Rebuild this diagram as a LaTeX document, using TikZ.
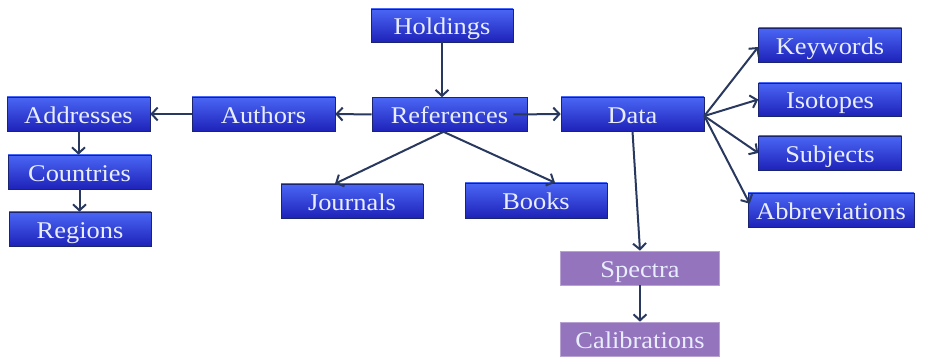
\documentclass[tikz,border=0pt]{standalone}
\usepackage{fontspec}
\setmainfont[FakeStretch=1.1]{Liberation Serif}
\usetikzlibrary{arrows.meta}
\definecolor{bluetop}{HTML}{4A66F5}
\definecolor{bluebot}{HTML}{1E22B8}
\definecolor{blueedge}{HTML}{1A2470}
\definecolor{purp}{HTML}{9474BC}
\definecolor{purpedge}{HTML}{B7A2D2}
\definecolor{txt}{HTML}{E8EEFF}
\definecolor{linec}{HTML}{28385E}
\tikzset{
  bbox/.style={draw=blueedge, line width=0.6pt, top color=bluetop, bottom color=bluebot,
    text=txt, minimum height=34pt, inner sep=0pt, text height=19pt, text depth=0pt,
    font=\fontsize{24}{24}\selectfont},
  pbox/.style={draw=purpedge, line width=0.6pt, fill=purp,
    text=txt, minimum height=34pt, minimum width=159pt, inner sep=0pt, text height=19pt, text depth=0pt,
    font=\fontsize{24}{24}\selectfont},
  arr/.style={draw=linec, line width=2pt, -{Straight Barb[length=6pt,width=13pt,line width=2pt]}}
}
\begin{document}
\begin{tikzpicture}[x=1pt,y=-1pt]
\useasboundingbox (0,0) rectangle (929,358);
\node[bbox, minimum width=142pt, minimum height=33pt] (Holdings) at (442,25.5) {Holdings};
\node[bbox, minimum width=155pt] (References) at (449.5,114.5) {References};
\node[bbox, minimum width=143pt] (Authors) at (263.5,114) {Authors};
\node[bbox, minimum width=143pt] (Addresses) at (78.5,114) {Addresses};
\node[bbox, minimum width=143pt] (Countries) at (79.5,172) {Countries};
\node[bbox, minimum width=142pt] (Regions) at (80,229) {Regions};
\node[bbox, minimum width=142pt] (Journals) at (352,201) {Journals};
\node[bbox, minimum width=142pt, minimum height=35pt] (Books) at (536,200.5) {Books};
\node[bbox, minimum width=143pt] (Data) at (632.5,114) {Data};
\node[bbox, minimum width=143pt] (Keywords) at (830,45) {Keywords};
\node[bbox, minimum width=143pt, minimum height=33pt] (Isotopes) at (830,99.5) {Isotopes};
\node[bbox, minimum width=143pt] (Subjects) at (830,153) {Subjects};
\node[bbox, minimum width=166pt] (Abbreviations) at (831,210) {Abbreviations};
\node[pbox] (Spectra) at (640,268) {Spectra};
\node[pbox] (Calibrations) at (640,339) {Calibrations};

\draw[arr] (Holdings.south) -- (Holdings.south |- References.north);
\draw[arr] (Authors.west) -- (Addresses.east);
\draw[arr] (References.west) -- (Authors.east);
\draw[arr] ([xshift=-14pt]References.east) -- (Data.west);
\draw[arr] (Addresses.south) -- (Addresses.south |- Countries.north);
\draw[arr] (Countries.south) -- (Countries.south |- Regions.north);
\draw[arr] ([xshift=-6pt]References.south) -- ([xshift=-17pt]Journals.north);
\draw[arr] ([xshift=-6pt]References.south) -- ([xshift=19pt]Books.north);
\draw[arr] ([yshift=-2pt]Data.east) -- ([yshift=-2pt]Keywords.west);
\draw[arr] ([yshift=-2pt]Data.east) -- (Isotopes.west);
\draw[arr] ([yshift=-2pt]Data.east) -- (Subjects.west);
\draw[arr] ([yshift=-2pt]Data.east) -- ([xshift=2pt,yshift=-11pt]Abbreviations.north west);
\draw[arr] (Data.south) -- (Spectra.north);
\draw[arr] (Spectra.south) -- (Calibrations.north);
\end{tikzpicture}
\end{document}
